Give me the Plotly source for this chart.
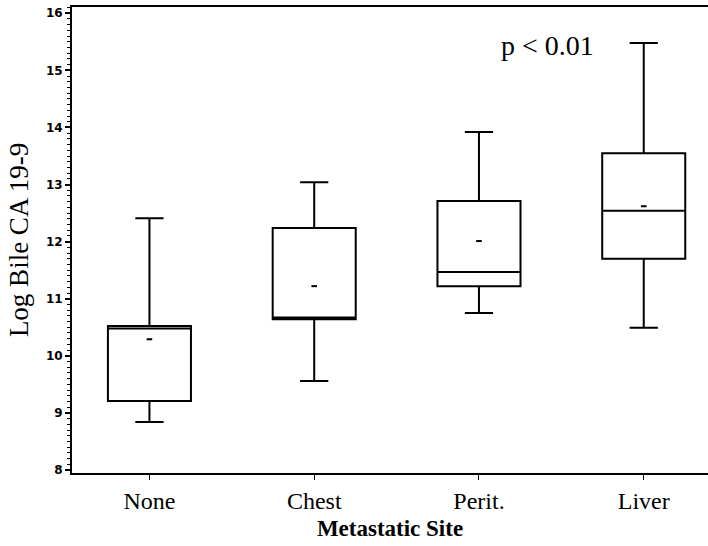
import plotly.graph_objects as go

categories = ["None", "Chest", "Perit.", "Liver"]
lower_whisker = [8.84, 9.56, 10.75, 10.49]
q1 = [9.21, 10.64, 11.22, 11.70]
median = [10.48, 10.67, 11.47, 12.54]
q3 = [10.52, 12.24, 12.71, 13.55]
upper_whisker = [12.41, 13.04, 13.92, 15.48]
means = [10.29, 11.22, 12.01, 12.62]
y_ticks = [8, 9, 10, 11, 12, 13, 14, 15, 16]

fig = go.Figure()
fig.add_trace(go.Box(
    x=categories,
    q1=q1, median=median, q3=q3,
    lowerfence=lower_whisker, upperfence=upper_whisker,
    width=0.504, whiskerwidth=0.34,
    line=dict(color="black", width=2),
    fillcolor="white",
    boxpoints=False,
    showlegend=False,
    hoverinfo="skip",
))
fig.add_trace(go.Scatter(
    x=categories, y=means, mode="markers",
    marker=dict(symbol="line-ew", size=4, color="black",
                line=dict(color="black", width=2)),
    showlegend=False,
))

fig.add_annotation(
    x=0.747, y=0.918, xref="paper", yref="paper",
    text="p < 0.01", showarrow=False,
    font=dict(family="Liberation Serif", size=28, color="black"),
    xanchor="center", yanchor="middle",
)

fig.update_layout(
    width=708, height=546,
    margin=dict(l=72, r=0, t=7, b=73),
    paper_bgcolor="white", plot_bgcolor="white",
    xaxis=dict(
        range=[-0.47, 3.39],
        showline=True, linecolor="black", linewidth=2, mirror=True,
        showgrid=False, zeroline=False,
        ticks="outside", ticklen=5, tickwidth=1, tickcolor="black",
        tickfont=dict(family="Liberation Serif", size=24, color="black"),
        title=dict(text="<b>Metastatic Site</b>", standoff=7,
                   font=dict(family="Liberation Serif", size=23, color="black")),
    ),
    yaxis=dict(
        range=[7.947, 16.11],
        tickvals=y_ticks,
        showline=True, linecolor="black", linewidth=2,
        showgrid=False, zeroline=False,
        ticks="outside", ticklen=5, tickwidth=2, tickcolor="black",
        tickfont=dict(family="DejaVu Sans", size=12, color="black", weight="bold"),
        minor=dict(dtick=0.1, ticks="outside", ticklen=3, tickwidth=1, tickcolor="black"),
        title=dict(text="Log Bile CA 19-9", standoff=9,
                   font=dict(family="Liberation Serif", size=27, color="black")),
    ),
)

fig.write_html("out.html")
